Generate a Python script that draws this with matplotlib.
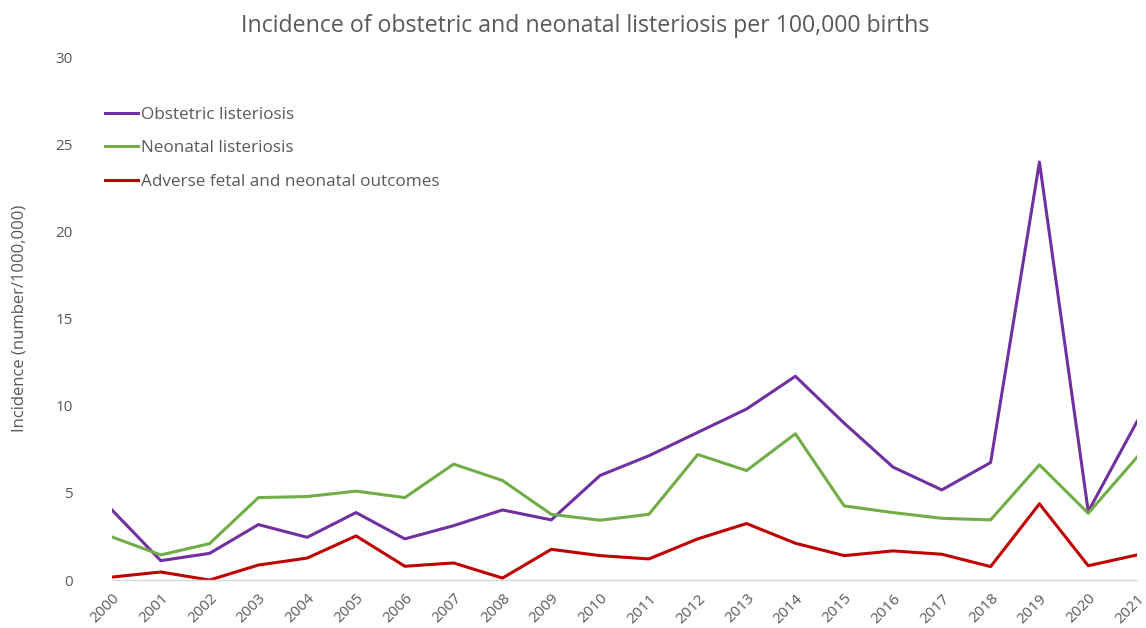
import numpy as np
from matplotlib import pyplot as plt

#%% Données

annees = list(range(2000, 2022))
obstetrique = [4.02, 1.11, 1.53, 3.18, 2.45, 3.87, 2.36, 3.12, 4.02, 3.45, 6.0,
               7.13, 8.47, 9.81, 11.69, 9.0, 6.48, 5.17, 6.74, 23.98, 3.93, 9.1]
neonatal = [2.47, 1.44, 2.09, 4.73, 4.79, 5.1, 4.73, 6.65, 5.71, 3.77, 3.43,
            3.77, 7.2, 6.28, 8.39, 4.25, 3.87, 3.54, 3.45, 6.61, 3.83, 7.05]
defavorable = [0.17, 0.46, 0.0, 0.86, 1.26, 2.53, 0.79, 0.98, 0.11, 1.76, 1.4,
               1.21, 2.36, 3.24, 2.11, 1.4, 1.67, 1.48, 0.77, 4.37, 0.82, 1.44]

#%% Affichage

plt.rcParams['font.family'] = ['Open Sans', 'DejaVu Sans']
gris = '#595959'

fig = plt.figure(figsize=(11.46, 6.28), dpi=100)
ax = fig.add_axes([0.0977, 0.0764, 0.8945, 0.8326])

ax.plot(annees, obstetrique, color='#7030A0', lw=2.2, label='Obstetric listeriosis')
ax.plot(annees, neonatal, color='#70AD47', lw=2.2, label='Neonatal listeriosis')
ax.plot(annees, defavorable, color='#C00000', lw=2.2, label='Adverse fetal and neonatal outcomes')

ax.set_xlim(2000, 2021)
ax.set_ylim(0, 30)
ax.set_yticks(range(0, 31, 5))
ax.set_xticks(annees)
ax.set_xticklabels([str(a) for a in annees], rotation=45, ha='right', rotation_mode='anchor')
ax.tick_params(axis='both', length=0, labelsize=11, colors=gris)
ax.tick_params(axis='y', pad=28)
ax.tick_params(axis='x', pad=8)

for s in ['top', 'right', 'left']:
    ax.spines[s].set_visible(False)
ax.spines['bottom'].set_color('#D9D9D9')
ax.spines['bottom'].set_linewidth(1)

ax.set_ylabel('Incidence (number/1000,000)', fontsize=12, color=gris, labelpad=20)
fig.suptitle('Incidence of obstetric and neonatal listeriosis per 100,000 births',
             fontsize=16.7, color=gris, x=0.511, y=0.978)

leg = ax.legend(loc='upper left', bbox_to_anchor=(-0.022, 0.935), frameon=False,
                fontsize=12.3, handlelength=1.95, handletextpad=0.15, labelspacing=1.05)
for t in leg.get_texts():
    t.set_color(gris)

fig.savefig('out.png', dpi=100)
